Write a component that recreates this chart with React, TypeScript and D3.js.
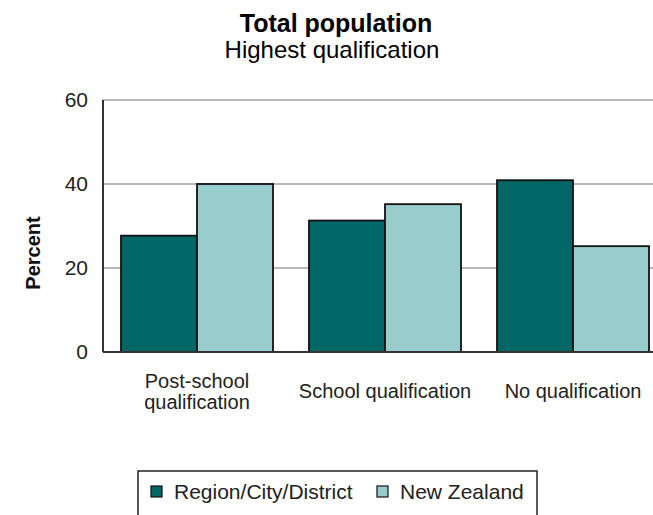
import * as d3 from 'd3';
import React from 'react';

const categories = ['Post-school qualification', 'School qualification', 'No qualification'];
const categoryLines = [['Post-school', 'qualification'], ['School qualification'], ['No qualification']];
const seriesNames = ['Region/City/District', 'New Zealand'];
const regionValues = [27.7, 31.3, 40.9];
const nzValues = [40.0, 35.2, 25.2];
const yTicks = [0, 20, 40, 60];
const colors = ['#006666', '#99CCCC'];

export default function App() {
  const width = 653;
  const height = 515;
  const left = 103;
  const top = 100;
  const bottom = 352;
  const plotRight = left + 3 * 188;

  const x = d3.scaleBand<string>().domain(categories).range([left, plotRight]).paddingInner(36 / 188).paddingOuter(18 / 188);
  const x1 = d3.scaleBand<string>().domain(seriesNames).range([0, x.bandwidth()]);
  const y = d3.scaleLinear().domain([0, 60]).range([bottom, top]);

  const series = [regionValues, nzValues];
  const font = 'Arial, "Liberation Sans", sans-serif';

  return (
    <svg width={width} height={height} style={{ position: 'absolute', left: 0, top: 0 }} fontFamily={font}>
      <rect width={width} height={height} fill="#fff" />
      {/* title */}
      <text x={336} y={32} textAnchor="middle" fontSize={25} fontWeight="bold" fill="#000">Total population</text>
      <text x={332} y={58} textAnchor="middle" fontSize={24} fill="#000">Highest qualification</text>

      {/* gridlines */}
      {yTicks.filter(t => t > 0).map(t => (
        <line key={t} x1={left} x2={plotRight} y1={y(t)} y2={y(t)} stroke="#a0a0a0" strokeWidth={1.5} />
      ))}
      {yTicks.map(t => (
        <text key={'l' + t} x={88} y={y(t) + 7} textAnchor="end" fontSize={21} fill="#222">{t}</text>
      ))}

      {/* bars */}
      {categories.map((c, i) =>
        series.map((vals, s) => (
          <rect
            key={c + s}
            x={(x(c) ?? 0) + (x1(seriesNames[s]) ?? 0)}
            y={y(vals[i])}
            width={x1.bandwidth()}
            height={bottom - y(vals[i])}
            fill={colors[s]}
            stroke="#111"
            strokeWidth={1.8}
          />
        ))
      )}

      {/* axes */}
      <line x1={left} x2={left} y1={top} y2={bottom} stroke="#333" strokeWidth={2} />
      <line x1={left} x2={plotRight} y1={bottom} y2={bottom} stroke="#333" strokeWidth={2} />

      {/* category labels */}
      {categories.map((c, i) => {
        const cx = (x(c) ?? 0) + x.bandwidth() / 2;
        const lines = categoryLines[i];
        const y0 = lines.length === 1 ? 398 : 388;
        return lines.map((ln, j) => (
          <text key={c + j} x={cx} y={y0 + j * 21} textAnchor="middle" fontSize={20} fill="#222">{ln}</text>
        ));
      })}

      {/* y label */}
      <text transform={`translate(40,253) rotate(-90)`} textAnchor="middle" fontSize={20} fontWeight="bold" fill="#111">Percent</text>

      {/* legend */}
      <rect x={138} y={471} width={399} height={60} fill="#fff" stroke="#222" strokeWidth={1.5} />
      {seriesNames.map((n, s) => {
        const lx = s === 0 ? 151 : 377;
        return (
          <g key={n}>
            <rect x={lx} y={486} width={11} height={11} fill={colors[s]} stroke="#111" strokeWidth={1.2} />
            <text x={lx + 23} y={499} fontSize={21} fill="#222">{n}</text>
          </g>
        );
      })}
    </svg>
  );
}
